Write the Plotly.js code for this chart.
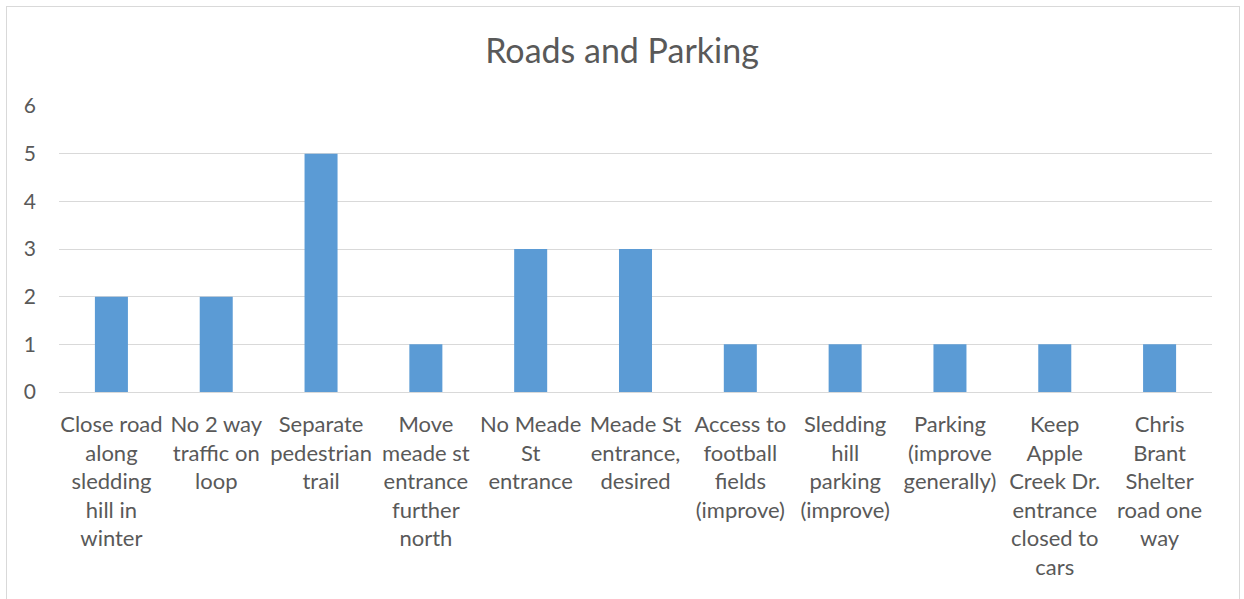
<!DOCTYPE html>
<html>
<head>
<meta charset="utf-8">
<script src="https://cdn.plot.ly/plotly-3.0.1.min.js"></script>
<style>
html,body{margin:0;padding:0;background:#fff;overflow:hidden;}
#chart{width:1244px;height:599px;}
#frame{position:absolute;left:6px;top:6px;width:1232px;height:700px;border:1.5px solid #D9D9D9;pointer-events:none;}
</style>
</head>
<body>
<div id="chart"></div>
<div id="frame"></div>
<script>
const chartTitle = "Roads and Parking";
const categories = [
  "Close road<br>along<br>sledding<br>hill in<br>winter",
  "No 2 way<br>traffic on<br>loop",
  "Separate<br>pedestrian<br>trail",
  "Move<br>meade st<br>entrance<br>further<br>north",
  "No Meade<br>St<br>entrance",
  "Meade St<br>entrance,<br>desired",
  "Access to<br>football<br>fields<br>(improve)",
  "Sledding<br>hill<br>parking<br>(improve)",
  "Parking<br>(improve<br>generally)",
  "Keep<br>Apple<br>Creek Dr.<br>entrance<br>closed to<br>cars",
  "Chris<br>Brant<br>Shelter<br>road one<br>way"
];
const values = [2, 2, 5, 1, 3, 3, 1, 1, 1, 1, 1];
const yTicks = [0, 1, 2, 3, 4, 5, 6];

const FONT = "Lato, Carlito, Calibri, sans-serif";

Plotly.newPlot("chart", [{
  type: "bar",
  x: categories,
  y: values,
  marker: {color: "#5B9BD5"},
  hoverinfo: "x+y"
}], {
  width: 1244, height: 599,
  paper_bgcolor: "#fff", plot_bgcolor: "#fff",
  margin: {l: 59, r: 32, t: 106, b: 207},
  bargap: 0.685,
  showlegend: false,
  title: {text: chartTitle, x: 0.5, xanchor: "center", y: 0.915, yanchor: "middle", font: {family: FONT, size: 34, color: "#595959"}},
  xaxis: {
    type: "category",
    tickfont: {family: FONT, size: 22, color: "#595959"},
    showgrid: false, showline: false, ticks: "", tickangle: 0,
    ticklabelstandoff: 17
  },
  yaxis: {
    range: [0, 6], tickvals: yTicks, ticktext: yTicks.map(String),
    tickfont: {family: FONT, size: 21, color: "#595959"},
    showgrid: true, gridcolor: "#D9D9D9", gridwidth: 1.3,
    zeroline: true, zerolinecolor: "#D9D9D9", zerolinewidth: 1.3,
    showline: false, ticks: "", ticklabelstandoff: 22
  }
}, {displayModeBar: false, responsive: false});
</script>
</body>
</html>
